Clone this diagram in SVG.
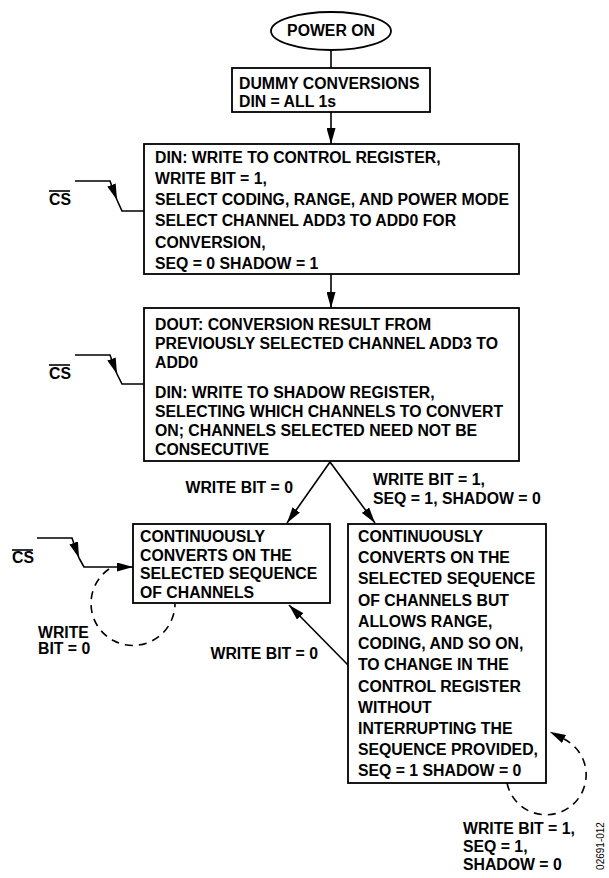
<svg xmlns="http://www.w3.org/2000/svg" width="609" height="878" viewBox="0 0 609 878">
<defs>
<style>
.t{font-family:"Liberation Sans",Arial,sans-serif;font-weight:bold;font-size:15.8px;fill:#000}
.box{fill:#fff;stroke:#000;stroke-width:1.8}
.ln{fill:none;stroke:#000;stroke-width:1.6}
.dash{fill:none;stroke:#000;stroke-width:1.6;stroke-dasharray:8 6}
.id{font-family:"Liberation Sans",Arial,sans-serif;font-size:10px;fill:#000}
</style>
<marker id="ah" viewBox="0 0 16 9" refX="16" refY="4.5" markerWidth="16" markerHeight="9" markerUnits="userSpaceOnUse" orient="auto">
<path d="M0,0 L16,4.5 L0,9 Z" fill="#000"/>
</marker>
<marker id="ah0" viewBox="0 0 16 9" refX="0" refY="4.5" markerWidth="16" markerHeight="9" markerUnits="userSpaceOnUse" orient="auto">
<path d="M0,0 L16,4.5 L0,9 Z" fill="#000"/>
</marker>
</defs>

<g id="connectors">
<path class="ln" d="M331,50 V68"/>
<path class="ln" d="M331,112 V144" marker-end="url(#ah)"/>
<path class="ln" d="M331,274 V308" marker-end="url(#ah)"/>
<path class="ln" d="M330,462 L287,523" marker-end="url(#ah)"/>
<path class="ln" d="M330,462 L375,523" marker-end="url(#ah)"/>
<path class="ln" d="M348,665 L289,605" marker-end="url(#ah)"/>
<path class="dash" d="M109,569 A42,42 0 1 0 175,604"/>
<path class="dash" d="M507,783 A40,40 0 1 0 564,739" marker-end="url(#ah0)"/>
</g>

<g id="cs1">
<path class="ln" d="M75,181 H110 L117,200" marker-end="url(#ah)"/>
<path class="ln" d="M117,200 L122,211 H144"/>
<text class="t" x="49" y="205">CS</text>
<path class="ln" d="M49,191 H70" stroke-width="1.2"/>
</g>
<g id="cs2">
<path class="ln" d="M75,355 H110 L117,374" marker-end="url(#ah)"/>
<path class="ln" d="M117,374 L122,384 H144"/>
<text class="t" x="49" y="379">CS</text>
<path class="ln" d="M49,365 H70" stroke-width="1.2"/>
</g>
<g id="cs3">
<path class="ln" d="M37,538 H72 L79,558" marker-end="url(#ah)"/>
<path class="ln" d="M79,558 L84,567 H133" marker-end="url(#ah)"/>
<text class="t" x="12" y="563">CS</text>
<path class="ln" d="M12,550 H33" stroke-width="1.2"/>
</g>

<g id="power-on">
<ellipse cx="331" cy="31" rx="60" ry="19" fill="#fff" stroke="#000" stroke-width="1.8"/>
<text class="t" x="331" y="36" text-anchor="middle">POWER ON</text>
</g>

<g id="dummy">
<rect class="box" x="232" y="68" width="198" height="44"/>
<text class="t" x="239" y="89">DUMMY CONVERSIONS</text>
<text class="t" x="239" y="107">DIN = ALL 1s</text>
</g>

<g id="control">
<rect class="box" x="144" y="144" width="375" height="130"/>
<text class="t" x="155" y="163">DIN: WRITE TO CONTROL REGISTER,</text>
<text class="t" x="155" y="184">WRITE BIT = 1,</text>
<text class="t" x="155" y="205">SELECT CODING, RANGE, AND POWER MODE</text>
<text class="t" x="155" y="226">SELECT CHANNEL ADD3 TO ADD0 FOR</text>
<text class="t" x="155" y="248">CONVERSION,</text>
<text class="t" x="155" y="269">SEQ = 0 SHADOW = 1</text>
</g>

<g id="shadow">
<rect class="box" x="144" y="308" width="375" height="153"/>
<text class="t" x="155" y="330">DOUT: CONVERSION RESULT FROM</text>
<text class="t" x="155" y="349">PREVIOUSLY SELECTED CHANNEL ADD3 TO</text>
<text class="t" x="155" y="368">ADD0</text>
<text class="t" x="155" y="398">DIN: WRITE TO SHADOW REGISTER,</text>
<text class="t" x="155" y="417">SELECTING WHICH CHANNELS TO CONVERT</text>
<text class="t" x="155" y="436">ON; CHANNELS SELECTED NEED NOT BE</text>
<text class="t" x="155" y="455">CONSECUTIVE</text>
</g>

<g id="labels">
<text class="t" x="293" y="493" text-anchor="end">WRITE BIT = 0</text>
<text class="t" x="373" y="485">WRITE BIT = 1,</text>
<text class="t" x="373" y="504">SEQ = 1, SHADOW = 0</text>
<text class="t" x="318" y="659" text-anchor="end">WRITE BIT = 0</text>
<text class="t" x="38" y="638">WRITE</text>
<text class="t" x="38" y="654">BIT = 0</text>
<text class="t" x="463" y="834">WRITE BIT = 1,</text>
<text class="t" x="463" y="852">SEQ = 1,</text>
<text class="t" x="463" y="870">SHADOW = 0</text>
<text class="id" x="0" y="0" transform="translate(604,846) rotate(-90)" text-anchor="middle">02691-012</text>
</g>

<g id="continuous">
<rect class="box" x="133" y="524" width="197" height="79"/>
<text class="t" x="140" y="542">CONTINUOUSLY</text>
<text class="t" x="140" y="561">CONVERTS ON THE</text>
<text class="t" x="140" y="579">SELECTED SEQUENCE</text>
<text class="t" x="140" y="598">OF CHANNELS</text>
</g>

<g id="continuous-change">
<rect class="box" x="348" y="524" width="198" height="259"/>
<text class="t" x="358" y="542">CONTINUOUSLY</text>
<text class="t" x="358" y="563">CONVERTS ON THE</text>
<text class="t" x="358" y="584">SELECTED SEQUENCE</text>
<text class="t" x="358" y="606">OF CHANNELS BUT</text>
<text class="t" x="358" y="627">ALLOWS RANGE,</text>
<text class="t" x="358" y="649">CODING, AND SO ON,</text>
<text class="t" x="358" y="670">TO CHANGE IN THE</text>
<text class="t" x="358" y="692">CONTROL REGISTER</text>
<text class="t" x="358" y="713">WITHOUT</text>
<text class="t" x="358" y="734">INTERRUPTING THE</text>
<text class="t" x="358" y="755">SEQUENCE PROVIDED,</text>
<text class="t" x="358" y="776">SEQ = 1 SHADOW = 0</text>
</g>
</svg>
